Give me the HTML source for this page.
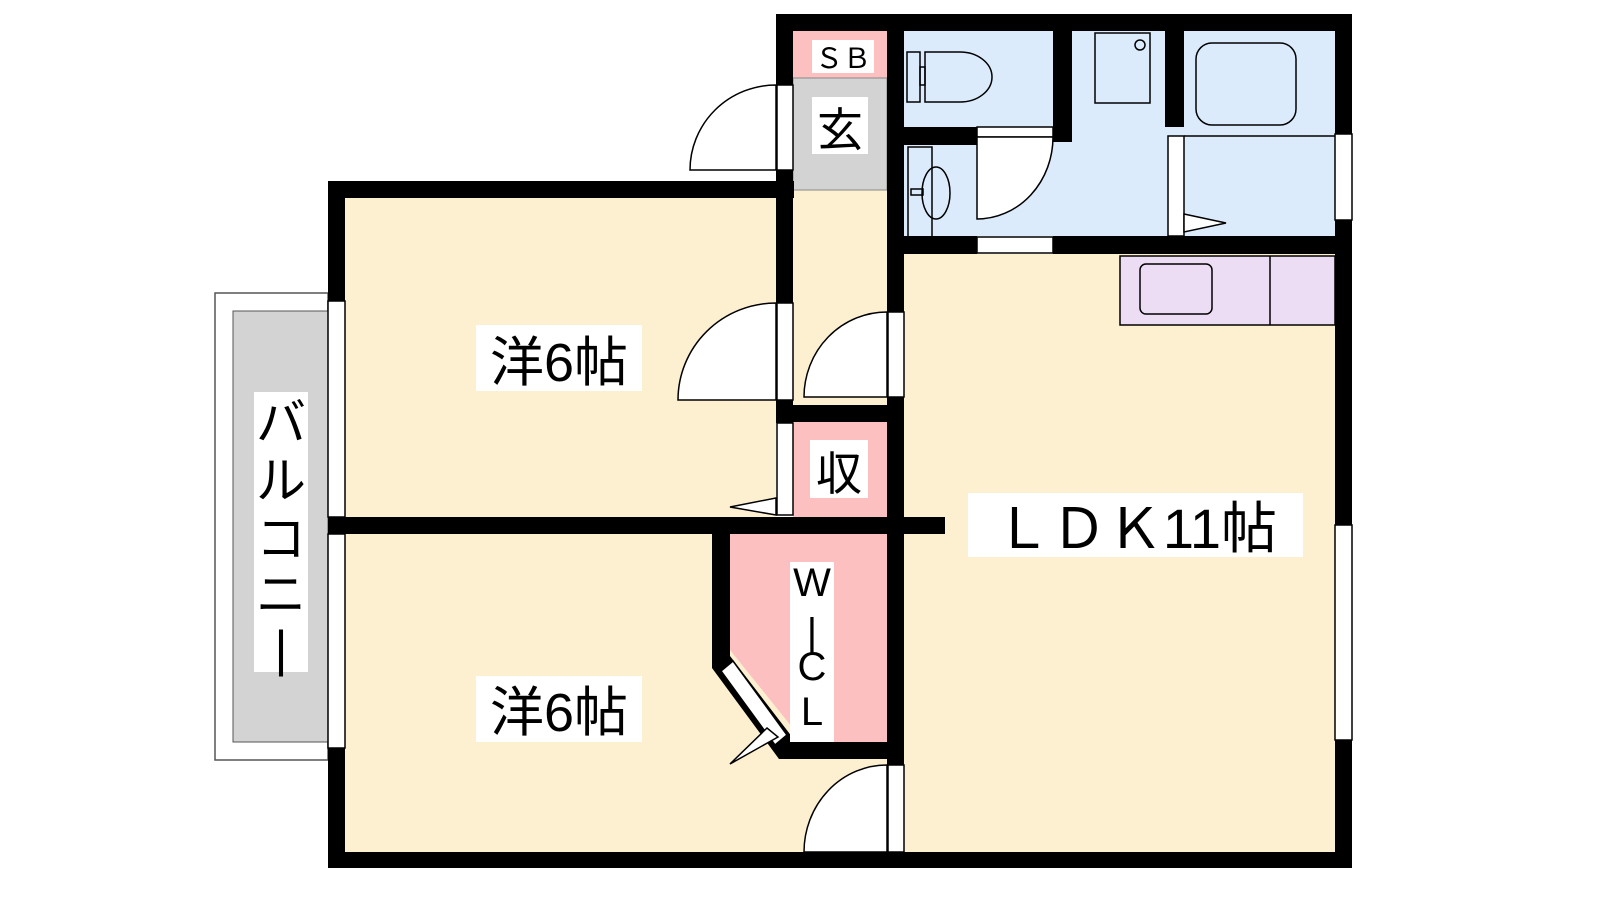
<!DOCTYPE html>
<html><head><meta charset="utf-8"><style>
html,body{margin:0;padding:0;background:#fff;}
svg{display:block}
text{font-family:"Liberation Sans","Noto Sans CJK JP",sans-serif;}
</style></head><body>
<svg width="1600" height="900" viewBox="0 0 1600 900" xmlns="http://www.w3.org/2000/svg">
<!-- floors -->
<rect x="345" y="198" width="431" height="319" fill="#fdf0d0"/>
<rect x="345" y="534" width="542" height="318" fill="#fdf0d0"/>
<rect x="793" y="190" width="94" height="215" fill="#fdf0d0"/>
<rect x="904" y="254" width="431" height="598" fill="#fdf0d0"/>
<rect x="793" y="31" width="94" height="47" fill="#fcc0c0"/>
<rect x="793" y="78" width="94" height="112" fill="#d3d3d3" stroke="#888" stroke-width="1"/>
<rect x="793" y="422" width="94" height="95" fill="#fcc0c0"/>
<polygon points="730,534 887,534 887,742 804,742 730,650" fill="#fcc0c0"/>
<rect x="904" y="31" width="431" height="205" fill="#dcebfc"/>
<!-- balcony -->
<rect x="215" y="293" width="113" height="467" fill="#fff" stroke="#555" stroke-width="1.5"/>
<rect x="233" y="311" width="95" height="431" fill="#d3d3d3" stroke="#555" stroke-width="1"/>
<!-- fixtures -->
<g fill="none" stroke="#000" stroke-width="1.5">
<rect x="1120" y="256" width="215" height="69" fill="#ecdcf4"/>
<line x1="1270" y1="256" x2="1270" y2="325"/>
<rect x="1140" y="264" width="72" height="50" rx="6"/>
<rect x="1095" y="33" width="55" height="70"/>
<circle cx="1140" cy="45" r="5"/>
<rect x="1196" y="43" width="100" height="82" rx="16"/>
<line x1="1184" y1="136" x2="1335" y2="136"/>
<rect x="907" y="52" width="13" height="50"/>
<path d="M925 52 H960 A32 25 0 0 1 960 102 H925 Z"/>
<rect x="920" y="67" width="5" height="18"/>
<rect x="908" y="147" width="24" height="93"/>
<ellipse cx="936" cy="193" rx="14" ry="26"/>
<rect x="911" y="189" width="12" height="6"/>
</g>
<!-- walls -->
<g fill="#000">
<rect x="776" y="14" width="576" height="17"/>
<rect x="1335" y="14" width="17" height="120"/>
<rect x="1335" y="220" width="17" height="305"/>
<rect x="1335" y="740" width="17" height="128"/>
<rect x="328" y="852" width="1024" height="16"/>
<rect x="328" y="181" width="17" height="120"/>
<rect x="328" y="748" width="17" height="120"/>
<rect x="328" y="181" width="466" height="17"/>
<rect x="776" y="14" width="17" height="71"/>
<rect x="776" y="170" width="17" height="133"/>
<rect x="776" y="400" width="17" height="23"/>
<rect x="887" y="14" width="17" height="298"/>
<rect x="887" y="397" width="17" height="368"/>
<rect x="887" y="852" width="17" height="16"/>
<rect x="904" y="236" width="73" height="18"/>
<rect x="1053" y="236" width="299" height="18"/>
<rect x="776" y="405" width="128" height="17"/>
<rect x="328" y="517" width="617" height="17"/>
<rect x="1053" y="31" width="19" height="111"/>
<rect x="904" y="127" width="73" height="18"/>
<rect x="1165" y="31" width="19" height="96"/>
<polygon points="712,534 730,534 730,656 796,742 887,742 887,759 779,759 712,668"/>
</g>
<!-- windows & door frames -->
<g fill="#fff" stroke="#000" stroke-width="1.5">
<rect x="328" y="301" width="17" height="216"/>
<rect x="328" y="534" width="17" height="214"/>
<rect x="1335" y="134" width="17" height="86"/>
<rect x="1335" y="525" width="17" height="215"/>
<rect x="777" y="85" width="16" height="85"/>
<rect x="777" y="303" width="16" height="97"/>
<rect x="777" y="423" width="16" height="92"/>
<rect x="888" y="312" width="16" height="85"/>
<rect x="888" y="765" width="16" height="87"/>
<rect x="977" y="237" width="76" height="16"/>
<rect x="977" y="127" width="76" height="10"/>
<rect x="1168" y="136" width="16" height="100"/>
<polygon points="721,671 733,661 787,735 775,745"/>
<!-- door swings -->
<path d="M776 85 A86 85 0 0 0 690 170 H776 Z"/>
<path d="M776 303 A98 97 0 0 0 678 400 H776 Z"/>
<path d="M887 312 A83 85 0 0 0 804 397 H887 Z"/>
<path d="M887 765 A83 87 0 0 0 804 852 H887 Z"/>
<path d="M977 137 H1053 A76 82 0 0 1 977 219 Z"/>
<path d="M776 498 L730 507 L776 515 Z"/>
<path d="M1184 214 L1226 223 L1184 232 Z"/>
<path d="M778 737 L730 764 L767 728 Z"/>
</g>
<!-- labels -->
<g fill="#fff">
<rect x="812" y="40" width="62" height="33"/>
<rect x="812" y="97" width="56" height="57"/>
<rect x="810" y="440" width="58" height="58"/>
<rect x="476" y="325" width="166" height="66"/>
<rect x="476" y="676" width="166" height="66"/>
<rect x="968" y="493" width="335" height="64"/>
<rect x="254" y="392" width="54" height="280"/>
<rect x="790" y="562" width="44" height="180"/>
</g>
<g fill="#000" text-anchor="middle">
<text x="843" y="68" font-size="28">ＳＢ</text>
<text x="840" y="146" font-size="46">玄</text>
<text x="839" y="490" font-size="46">収</text>
<text x="559" y="381" font-size="54">洋6帖</text>
<text x="559" y="731" font-size="54">洋6帖</text>
<text x="1136" y="548" font-size="56">ＬＤＫ11帖</text>
<text x="812" y="596" font-size="40">W</text>
<text x="812" y="646" font-size="40">|</text>
<text x="812" y="680" font-size="40">C</text>
<text x="812" y="725" font-size="40">L</text>
<text x="281" y="440" font-size="50">バ</text>
<text x="281" y="498" font-size="50">ル</text>
<text x="281" y="556" font-size="50">コ</text>
<text x="281" y="612" font-size="50">ニ</text>
<text x="281" y="666" font-size="50">|</text>
</g>
</svg>
</body></html>
